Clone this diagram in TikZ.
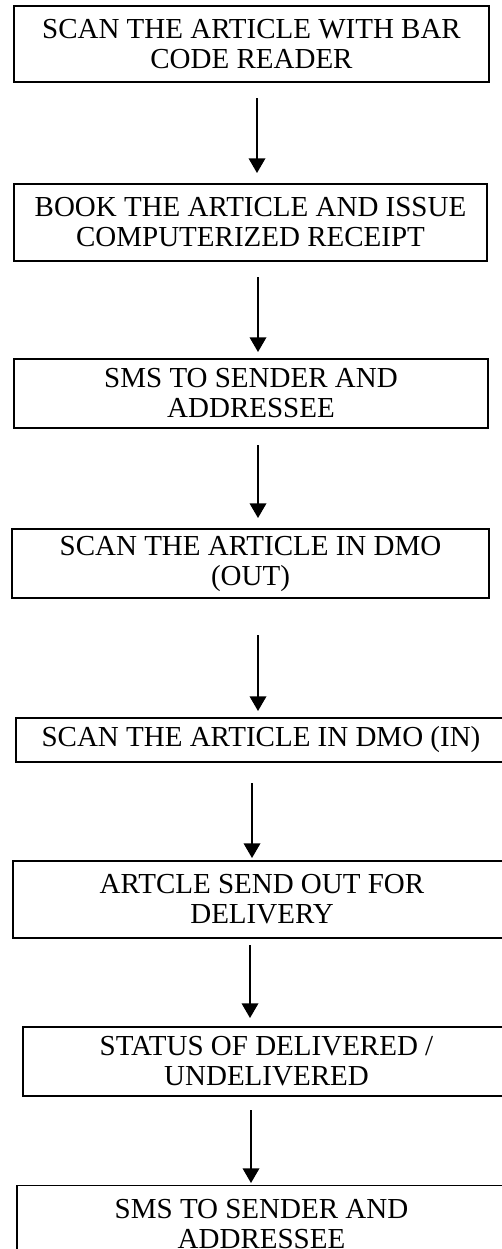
\documentclass[tikz,border=0pt]{standalone}
\usepackage{fontspec}
\setmainfont{Liberation Serif}
\usetikzlibrary{arrows.meta}
\begin{document}
\begin{tikzpicture}[x=0.75pt,y=-0.75pt,
  stepbox/.style={draw,line width=1pt,inner sep=0pt,align=center,
    font=\fontsize{21.75}{22.5}\selectfont},
  flow/.style={line width=1pt,-{Triangle[width=12.5pt,length=11pt]}}]
\clip (0,0) rectangle (502,1249);
\node[stepbox,minimum width=356.25pt,minimum height=57pt] (b1) at (251.5,44)
  {SCAN THE ARTICLE WITH BAR\\CODE READER};
\node[stepbox,minimum width=354.75pt,minimum height=57.75pt] (b2) at (250.5,222.5)
  {BOOK THE ARTICLE AND ISSUE\\COMPUTERIZED RECEIPT};
\node[stepbox,minimum width=355.5pt,minimum height=51.75pt] (b3) at (251,393.5)
  {SMS TO SENDER AND\\ADDRESSEE};
\node[stepbox,minimum width=357.75pt,minimum height=51.75pt] (b4) at (250.5,563.5)
  {SCAN THE ARTICLE IN DMO\\(OUT)};
\node[stepbox,minimum width=367.5pt,minimum height=33pt] (b5) at (261,740)
  {SCAN THE ARTICLE IN DMO (IN)};
\node[stepbox,minimum width=373.5pt,minimum height=57.75pt] (b6) at (262,899.5)
  {ARTCLE SEND OUT FOR\\DELIVERY};
\node[stepbox,minimum width=365.25pt,minimum height=51.75pt] (b7) at (266.5,1061.5)
  {STATUS OF DELIVERED /\\UNDELIVERED};
\node[stepbox,minimum width=366.75pt,minimum height=57.75pt] (b8) at (261.5,1224)
  {SMS TO SENDER AND\\ADDRESSEE};
\coordinate (a1s) at (257,98);   \coordinate (a1e) at (257,173);
\coordinate (a2s) at (258,277);  \coordinate (a2e) at (258,352);
\coordinate (a3s) at (258,445);  \coordinate (a3e) at (258,518);
\coordinate (a4s) at (258,635);  \coordinate (a4e) at (258,711);
\coordinate (a5s) at (252,783);  \coordinate (a5e) at (252,858);
\coordinate (a6s) at (250,945);  \coordinate (a6e) at (250,1018);
\coordinate (a7s) at (251,1110); \coordinate (a7e) at (251,1183);
\draw[flow] (a1s) -- (a1e);
\draw[flow] (a2s) -- (a2e);
\draw[flow] (a3s) -- (a3e);
\draw[flow] (a4s) -- (a4e);
\draw[flow] (a5s) -- (a5e);
\draw[flow] (a6s) -- (a6e);
\draw[flow] (a7s) -- (a7e);
\end{tikzpicture}
\end{document}
